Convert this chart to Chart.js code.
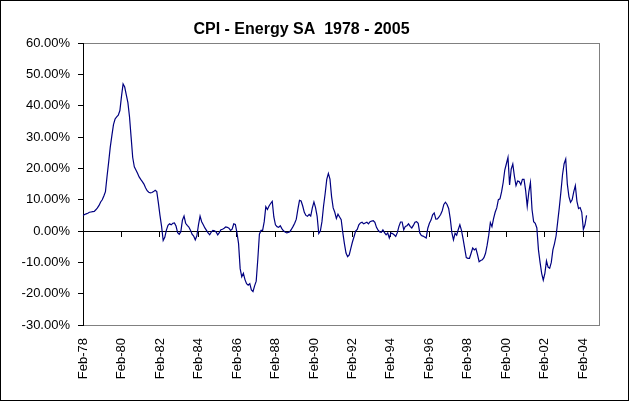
<!DOCTYPE html>
<html>
<head>
<meta charset="utf-8">
<script src="https://cdn.jsdelivr.net/npm/chart.js@4.4.0/dist/chart.umd.min.js"></script>
<style>
  html, body { margin: 0; padding: 0; background: #fff; }
  #wrap {
    position: absolute; left: 0; top: 0;
    width: 629px; height: 401px;
    box-sizing: border-box;
    border: 1px solid #000;
  }
  #cpiChart { display: block; }
</style>
</head>
<body>
<div id="wrap"><canvas id="cpiChart" width="627" height="399"></canvas></div>
<script>
// monthly CPI energy, yoy %, Feb-78 onwards
const cpiEnergy = [
   5.0,  5.3,  5.5,  5.7,  6.0,  6.1,  6.2,  6.3,  6.8,  7.4,  8.2,  9.3,
  10.0, 11.2, 12.6, 17.5, 22.0, 26.8, 30.5, 34.0, 35.8, 36.5, 37.0, 38.5,
  43.0, 47.0, 46.0, 43.5, 41.0, 36.5, 30.0, 23.5, 20.5, 19.5, 18.5, 17.3,
  16.5, 15.8, 15.0, 13.8, 12.9, 12.4, 12.2, 12.3, 12.6, 13.0, 12.6,  9.0,
   5.0,  1.5, -3.0, -2.0,  0.3,  1.8,  2.3,  2.0,  2.5,  2.6,  1.6, -0.5,
  -1.0, -0.2,  3.5,  4.8,  2.5,  1.8,  1.3,  0.3, -1.0, -1.6, -2.8, -1.5,
   2.0,  4.8,  3.0,  2.0,  1.0,  0.2, -0.6, -1.2, -0.3,  0.2,  0.1, -0.3,
  -1.2, -0.5,  0.4,  0.6,  0.9,  1.3,  1.2,  0.9,  0.2,  0.6,  2.3,  2.1,
  -0.5, -4.0,-12.0,-14.6,-13.5,-15.5,-16.8,-17.3,-16.8,-18.8,-19.3,-17.5,
 -16.0, -9.0, -1.0,  0.2,  0.2,  3.0,  7.8,  6.9,  8.0,  8.8,  9.5,  4.5,
   2.0,  1.4,  1.2,  1.7,  0.8,  0.1, -0.3, -0.6, -0.4, -0.2,  0.6,  1.5,
   2.5,  3.8,  7.0,  9.8,  9.6,  8.0,  6.0,  5.0,  4.7,  5.3,  4.8,  7.4,
   9.3,  7.5,  4.7, -0.8,  0.0,  3.0,  8.0, 12.0, 16.5, 18.4, 16.6, 11.0,
   7.4,  6.0,  4.0,  5.4,  4.5,  3.6, -0.5, -4.0, -7.0, -8.2, -7.6, -5.5,
  -3.5, -1.8,  0.0,  0.5,  2.0,  2.6,  2.8,  2.3,  2.6,  2.8,  2.3,  3.0,
   3.2,  3.3,  2.8,  1.2,  0.3, -0.3, -0.4,  0.4, -0.5, -1.2, -0.6, -2.2,
  -0.6, -0.8, -1.2, -1.7, -0.5,  1.5,  2.9,  2.9,  0.4,  1.5,  1.7,  2.3,
   1.5,  1.0,  1.8,  2.8,  3.0,  2.5, -0.6, -1.4, -1.6, -1.9, -2.2,  0.9,
   2.5,  3.5,  5.2,  5.8,  3.8,  3.9,  4.5,  5.3,  6.5,  8.5,  9.2,  8.5,
   7.2,  4.0, -0.5, -2.8, -0.7, -1.3,  0.5,  2.0,  0.2, -2.5, -5.5, -8.5,
  -8.7, -8.7, -7.1, -5.4, -6.0, -5.6, -7.5, -9.8, -9.4, -9.2, -8.5, -7.1,
  -4.5, -1.3,  2.7,  1.4,  4.0,  6.0,  7.4, 10.0, 10.3, 12.5, 15.5, 19.5,
  21.5, 23.5, 14.7, 19.8, 21.4, 17.5, 14.5, 16.0, 15.8, 14.8, 16.5, 16.5,
  13.0,  7.9, 12.5, 15.5,  6.8,  3.0,  2.5,  1.0, -6.0,-10.0,-13.5,-15.7,
 -13.5, -9.5,-11.5,-11.9,-10.0, -6.0, -4.0, -1.5,  3.0,  7.5, 12.5, 18.0,
  21.5, 23.0, 15.0, 11.0,  9.2, 10.0, 12.5, 14.5,  9.5,  7.2,  7.5,  6.0,
   0.5,  2.0,  5.0
];

const monthNames = ['Jan','Feb','Mar','Apr','May','Jun','Jul','Aug','Sep','Oct','Nov','Dec'];
const startYear = 1978, startMonth = 1;   // Feb-78
const endYear = 2004, endMonth = 11;      // axis runs to Dec-04
const labelEvery = 24;                    // one label every two years

const months = [];
for (let y = startYear, m = startMonth; y < endYear || (y === endYear && m <= endMonth); ) {
    months.push(monthNames[m] + '-' + String(y).slice(2));
    m++;
    if (m > 11) { m = 0; y++; }
}

const yMin = -30, yMax = 60, yStep = 10;

const tickFont = { family: 'Liberation Sans, Arial, sans-serif', size: 13 };

// grey frame round the plot area, like the Excel plot area border
const plotFrame = {
    id: 'plotFrame',
    beforeDraw(chart) {
        const { ctx, chartArea: a } = chart;
        ctx.save();
        ctx.strokeStyle = '#808080';
        ctx.lineWidth = 1;
        ctx.strokeRect(Math.round(a.left) + 0.5, Math.round(a.top) + 0.5,
                       Math.round(a.right - a.left), Math.round(a.bottom - a.top));
        ctx.restore();
    }
};

const ctx = document.getElementById('cpiChart').getContext('2d');
new Chart(ctx, {
    type: 'line',
    data: {
        labels: months,
        datasets: [{
            label: 'CPI - Energy SA',
            data: cpiEnergy,
            borderColor: '#000080',
            borderWidth: 1.2,
            pointRadius: 0,
            tension: 0,
            fill: false
        }]
    },
    options: {
        responsive: false,
        animation: false,
        devicePixelRatio: 1,
        layout: { padding: { left: 0, right: 26, top: 0, bottom: 0 } },
        plugins: {
            legend: { display: false },
            tooltip: { enabled: false },
            title: {
                display: true,
                text: 'CPI - Energy SA  1978 - 2005',
                color: '#000',
                font: { family: 'Liberation Sans, Arial, sans-serif', size: 16, weight: 'bold' },
                padding: { top: 19, bottom: 4 }
            }
        },
        scales: {
            x: {
                type: 'category',
                offset: false,
                grid: { display: false, drawTicks: false, tickLength: 0 },
                border: { display: false },
                ticks: {
                    autoSkip: false,
                    maxRotation: 90,
                    minRotation: 90,
                    padding: 13,
                    color: '#000',
                    font: tickFont,
                    callback: (v, i) => (i % labelEvery === 0 ? months[i] : '')
                },
                afterFit: s => { s.height = 75; }
            },
            xZero: {
                type: 'category',
                position: { y: 0 },
                offset: false,
                ticks: { display: false, autoSkip: false },
                grid: {
                    drawOnChartArea: false,
                    drawTicks: true,
                    tickLength: 5,
                    color: c => (c.index % labelEvery === 0 ? '#000' : 'rgba(0,0,0,0)')
                },
                border: { display: true, color: '#000', width: 1 }
            },
            y: {
                min: yMin,
                max: yMax,
                ticks: {
                    stepSize: yStep,
                    padding: 8,
                    color: '#000',
                    font: tickFont,
                    callback: v => v.toFixed(2) + '%'
                },
                grid: { drawOnChartArea: false, drawTicks: true, tickLength: 5, color: '#000' },
                border: { display: true, color: '#000', width: 1 },
                afterFit: s => { s.width = 82; }
            }
        }
    },
    plugins: [plotFrame]
});
</script>
</body>
</html>
